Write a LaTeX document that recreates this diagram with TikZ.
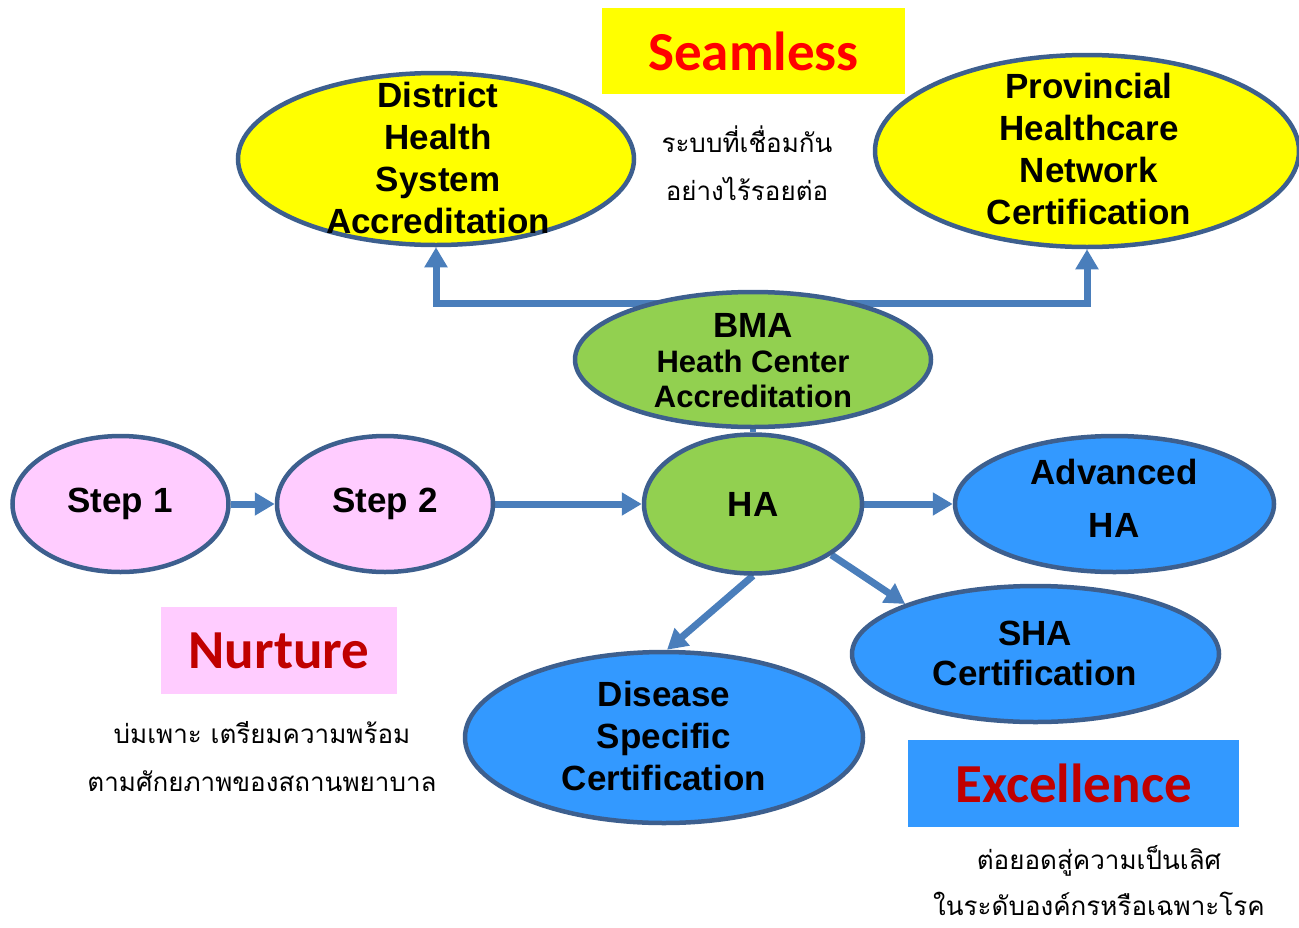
\documentclass[tikz,border=0pt]{standalone}
\usepackage{fontspec}
\setmainfont{Liberation Sans}
\newfontfamily\calfont{Carlito}
\newfontfamily\thaifont[Script=Thai]{Loma}
\usetikzlibrary{shapes.geometric,arrows.meta}
\pgfdeclarelayer{bg}
\pgfsetlayers{bg,main}
\definecolor{edgeblue}{HTML}{3D5F8E}
\definecolor{arrblue}{HTML}{4A7EBB}
\definecolor{yel}{HTML}{FFFF00}
\definecolor{grn}{HTML}{92D050}
\definecolor{pnk}{HTML}{FFCCFF}
\definecolor{blu}{HTML}{3399FF}
\definecolor{dred}{HTML}{C00000}
\tikzset{
  ell/.style={ellipse, draw=edgeblue, line width=4.5pt, inner sep=0pt},
  lbl/.style={align=center, font=\bfseries\fontsize{35}{42}\selectfont, inner sep=0pt},
  arr/.style={draw=arrblue, line width=7pt, -{Triangle[width=22pt,length=20pt]}},
  conn/.style={draw=arrblue, line width=6pt},
  banner/.style={inner sep=0pt, font=\calfont\bfseries\fontsize{55}{60}\selectfont},
  thai/.style={align=center, inner sep=0pt, font=\thaifont\fontsize{26}{48}\selectfont}
}
\begin{document}
\begin{tikzpicture}[x=1pt,y=-1pt]
\useasboundingbox (0,0) rectangle (1299,927);
% banners
\node[banner, fill=yel, minimum width=303pt, minimum height=86pt, text=red] (seam) at (753.5,51) {Seamless};
\node[banner, fill=pnk, minimum width=236pt, minimum height=87pt, text=dred] (nurt) at (279,650.5) {Nurture};
\node[banner, fill=blu, minimum width=331pt, minimum height=87pt, text=dred] (exc) at (1073.5,783.5) {Excellence};
% thai text
\node[thai] (t1) at (747,163) {ระบบที่เชื่อมกัน\\อย่างไร้รอยต่อ};
\node[thai] (t2) at (262,757) {บ่มเพาะ เตรียมความพร้อม\\ตามศักยภาพของสถานพยาบาล};
\node[thai, font=\thaifont\fontsize{26}{46}\selectfont] (t3) at (1099,881) {ต่อยอดสู่ความเป็นเลิศ\\ในระดับองค์กรหรือเฉพาะโรค};
% ellipses
\node[ell, fill=yel, minimum width=396pt, minimum height=172pt] (dist) at (436,159) {};
\node[lbl] at (438,158) {District\\Health\\System\\Accreditation};
\node[ell, fill=yel, minimum width=424pt, minimum height=192pt] (prov) at (1087,151) {};
\node[lbl] at (1089,149) {Provincial\\Healthcare\\Network\\Certification};
\node[ell, fill=grn, minimum width=218pt, minimum height=139pt] (ha) at (753,504) {};
\node[lbl] at (753,504) {HA};
\node[ell, fill=pnk, minimum width=216pt, minimum height=136pt] (s1) at (120.5,504) {};
\node[lbl] at (120,504) {Step 1};
\node[ell, fill=pnk, minimum width=216pt, minimum height=136pt] (s2) at (385,504) {};
\node[lbl] at (385,504) {Step 2};
\node[ell, fill=blu, minimum width=319pt, minimum height=136pt] (adv) at (1114.5,504) {};
\node[lbl, font=\bfseries\fontsize{35}{53}\selectfont] at (1114,498) {Advanced\\HA};
\node[ell, fill=blu, minimum width=367pt, minimum height=136pt] (sha) at (1035.5,654) {};
\node[lbl, font=\bfseries\fontsize{35}{40}\selectfont] at (1035,653) {SHA\\Certification};
\node[ell, fill=blu, minimum width=398pt, minimum height=171pt] (dis) at (664,737.5) {};
\node[lbl] at (664,736) {Disease\\Specific\\Certification};
\node[ell, fill=grn, minimum width=356pt, minimum height=135pt] (bma) at (753,359.5) {};
\node[lbl, font=\bfseries\fontsize{31}{35}\selectfont] at (753,361) {{\fontsize{35}{35}\selectfont BMA}\\Heath Center\\Accreditation};
\coordinate (jn) at (753,303);
% connectors
\begin{pgfonlayer}{bg}
\draw[arr] (jn) -| (dist.south);
\draw[arr] (jn) -| (prov.south);
\draw[conn] (bma.south) -- (ha.north);
\draw[arr] (s1.east) -- (s2.west);
\draw[arr] (s2.east) -- (ha.west);
\draw[arr] (ha.east) -- (adv.west);
\draw[arr] (ha.south) -- (dis.88);
\draw[arr] (ha.-33) -- (sha.159);
\end{pgfonlayer}
\end{tikzpicture}
\end{document}
